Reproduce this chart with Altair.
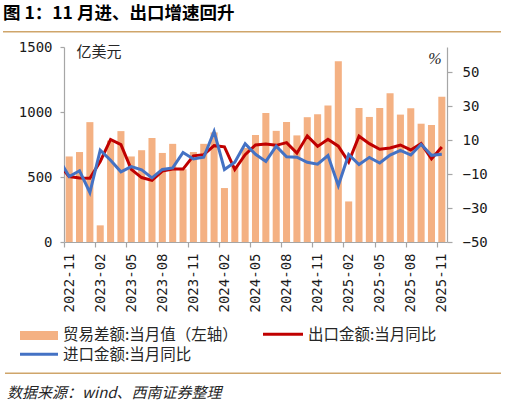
import altair as alt
import pandas as pd

months = ["2022-10", "2022-11", "2022-12", "2023-01", "2023-02", "2023-03", "2023-04",
          "2023-05", "2023-06", "2023-07", "2023-08", "2023-09", "2023-10", "2023-11",
          "2023-12", "2024-01", "2024-02", "2024-03", "2024-04", "2024-05", "2024-06",
          "2024-07", "2024-08", "2024-09", "2024-10", "2024-11", "2024-12", "2025-01",
          "2025-02", "2025-03", "2025-04", "2025-05", "2025-06", "2025-07", "2025-08",
          "2025-09", "2025-10", "2025-11"]

# trade balance (亿美元), 2022-11 .. 2025-11
trade_balance = [658, 692, 922, 128, 780, 853, 658, 706, 800, 685, 755, 560, 692, 755,
                 843, 415, 585, 723, 823, 992, 855, 923, 820, 960, 982, 1050, 1390, 312,
                 1030, 962, 1030, 1145, 980, 1028, 910, 900, 1118]

# yoy (%), 2022-10 .. 2025-11
export_yoy = [-4.0, -11.4, -12.2, -12.4, -2.5, 10.5, 7.4, -7.2, -12.0, -13.7, -8.2, -7.0,
              -7.0, 0.8, 1.5, 6.8, 6.1, -7.3, 1.5, 7.2, 7.8, 7.0, 8.6, 2.4, 12.6, 6.4,
              10.6, 6.5, -2.8, 12.4, 8.0, 4.7, 5.4, 7.2, 4.3, 8.1, -1.0, 6.0]
import_yoy = [-1.0, -11.4, -8.0, -20.8, 4.2, -1.8, -8.6, -5.5, -7.5, -12.2, -7.2, -6.3,
              2.8, -1.0, 0.0, 15.2, -7.2, -2.9, 8.0, 1.7, -2.5, 6.5, 0.3, 0.0, -3.0, -4.1,
              1.0, -16.7, 1.6, -4.3, -0.1, -3.4, 1.3, 4.0, 1.3, 7.6, 1.1, 1.8]

label_idx = [1, 4, 7, 10, 13, 16, 19, 22, 25, 28, 31, 34, 37]
left_ticks = [0, 500, 1000, 1500]
right_ticks = [-50, -30, -10, 10, 30, 50]

title_text = "图 1：11 月进、出口增速回升"
unit_left = "亿美元"
unit_right = "%"
legend_labels = ["贸易差额:当月值（左轴）", "出口金额:当月同比", "进口金额:当月同比"]
source_text = "数据来源：wind、西南证券整理"

BAR = "#F4B183"
RED = "#C00000"
BLUE = "#4472C4"
RULE = "#CFA56A"
AXIS = "#A6A6A6"
TXT = "#262626"

W, H = 383, 195
n = len(trade_balance)
half = W / n / 2

bars_df = pd.DataFrame({"idx": list(range(1, n + 1)), "month": months[1:], "bal": trade_balance})
lines_df = pd.DataFrame({"idx": list(range(0, n + 1)), "month": months,
                         "exp": export_yoy, "imp": import_yoy})

months_js = "[" + ",".join("'%s'" % m for m in months) + "]"
xscale = alt.Scale(domain=[0.5, n + 0.5], nice=False, zero=False)
xaxis = alt.Axis(values=label_idx, labelExpr=months_js + "[datum.value]",
                 tickOffset=-half, labelOffset=half, labelAngle=-90,
                 tickSize=5, labelPadding=6, title=None)

bars = alt.Chart(bars_df).transform_calculate(
    x0="datum.idx - 0.34", x1="datum.idx + 0.34"
).mark_rect(color=BAR).encode(
    x=alt.X("x0:Q", scale=xscale, axis=xaxis, title=None),
    x2="x1:Q",
    y=alt.Y("bal:Q", scale=alt.Scale(domain=[0, 1500], nice=False),
            axis=alt.Axis(values=left_ticks, format="d", tickSize=4, labelPadding=8,
                          title=None)),
    y2=alt.datum(0),
)

yr = alt.Scale(domain=[-50, 65], nice=False, zero=False)
raxis = alt.Axis(orient="right", values=right_ticks, format="d", tickSize=5,
                 labelPadding=10, title=None)
red = alt.Chart(lines_df).mark_line(color=RED, strokeWidth=3, clip=True).encode(
    x=alt.X("idx:Q", scale=xscale, axis=xaxis, title=None),
    y=alt.Y("exp:Q", scale=yr, axis=raxis),
)
blue = alt.Chart(lines_df).mark_line(color=BLUE, strokeWidth=3, clip=True).encode(
    x=alt.X("idx:Q", scale=xscale, axis=xaxis, title=None),
    y=alt.Y("imp:Q", scale=yr, axis=raxis),
)
lines = alt.layer(red, blue)


def txt(t, x, y, size, font="Noto Sans CJK SC", weight="normal", style="normal",
        color=TXT, align="left"):
    return alt.Chart(pd.DataFrame({"t": [t]})).mark_text(
        font=font, fontSize=size, fontWeight=weight, fontStyle=style, color=color,
        align=align, baseline="middle"
    ).encode(x=alt.value(x), y=alt.value(y), text="t:N")


def hrule(x1, x2, y, color, width):
    return alt.Chart(pd.DataFrame({"a": [0]})).mark_rule(
        color=color, strokeWidth=width
    ).encode(x=alt.value(x1), x2=alt.value(x2), y=alt.value(y))


swatch = alt.Chart(pd.DataFrame({"a": [0]})).mark_rect(color=BAR).encode(
    x=alt.value(-44), x2=alt.value(-6), y=alt.value(284), y2=alt.value(293)
)

decor = [
    txt(title_text, -61, -33, 17.5, weight="bold", color="#000000"),
    hrule(-61, 437, -15.3, RULE, 1.5),
    txt(unit_left, 12.5, 4.7, 15),
    txt(unit_right, 371, 11.5, 16, font="Liberation Serif", style="italic", align="center"),
    swatch,
    txt(legend_labels[0], -1, 288.3, 15.5),
    hrule(199, 239, 287.3, RED, 3),
    txt(legend_labels[1], 244, 288.3, 15.5),
    hrule(-44, -6, 307.3, BLUE, 3),
    txt(legend_labels[2], -1, 308.3, 15.5),
    hrule(-59, 437, 326.3, RULE, 1.5),
    txt(source_text, -57, 346, 15, style="italic"),
]

chart = alt.layer(bars, lines, *decor).resolve_scale(y="independent").properties(
    width=W, height=H,
    padding={"left": 64, "top": 47, "right": 507 - 64 - W, "bottom": 406 - 47 - H},
    autosize=alt.AutoSizeParams(type="none"),
).configure_view(stroke=None).configure_axis(
    domainColor=AXIS, tickColor=AXIS, grid=False, labelFont="DejaVu Sans Mono",
    labelFontSize=14, labelColor="#1a1a1a", domainWidth=1.2, tickWidth=1.2
)

chart.save("out.html", embed_options={"renderer": "svg", "actions": False})
